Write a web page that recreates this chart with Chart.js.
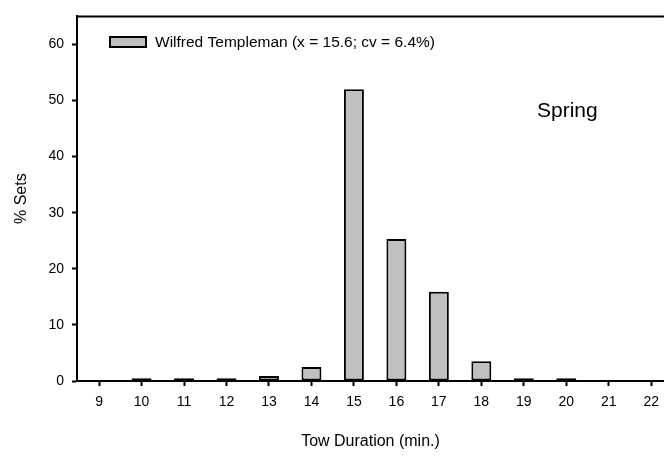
<!DOCTYPE html>
<html>
<head>
<meta charset="utf-8">
<script src="https://cdn.jsdelivr.net/npm/chart.js@4.4.0/dist/chart.umd.min.js"></script>
<style>
html,body{margin:0;padding:0;background:#fff;}
#wrap{width:667px;height:457px;position:relative;}
</style>
</head>
<body>
<div id="wrap"><canvas id="c" width="667" height="457"></canvas></div>
<script>
const categories = [9, 10, 11, 12, 13, 14, 15, 16, 17, 18, 19, 20, 21, 22];
const percentSets = [null, 0.5, 0.5, 0.5, 0.9, 2.5, 52.0, 25.3, 15.9, 3.5, 0.5, 0.5, null, null];
const yTicks = [0, 10, 20, 30, 40, 50, 60];
const seriesLabel = 'Wilfred Templeman (x = 15.6; cv = 6.4%)';
const panelLabel = 'Spring';

const FONT = "'Liberation Sans', Arial, sans-serif";

const overlay = {
  id: 'overlay',
  afterDraw(chart) {
    const ctx = chart.ctx;
    const a = chart.chartArea;
    ctx.save();
    // top frame line
    ctx.strokeStyle = '#000';
    ctx.lineWidth = 2;
    ctx.beginPath();
    ctx.moveTo(a.left - 1, a.top);
    ctx.lineTo(a.right, a.top);
    ctx.stroke();
    // legend
    ctx.fillStyle = '#c0c0c0';
    ctx.fillRect(110, 37, 36, 10);
    ctx.strokeRect(110, 37, 36, 10);
    ctx.fillStyle = '#000';
    ctx.font = '15.5px ' + FONT;
    ctx.textBaseline = 'middle';
    ctx.textAlign = 'left';
    ctx.fillText(seriesLabel, 155, 42.5);
    // panel label
    ctx.font = '21px ' + FONT;
    ctx.fillText(panelLabel, 537, 111);
    ctx.restore();
  }
};

new Chart(document.getElementById('c'), {
  type: 'bar',
  data: {
    datasets: [{
      label: seriesLabel,
      data: categories.map((c, i) => ({x: c, y: percentSets[i]})),
      backgroundColor: '#c0c0c0',
      borderColor: '#000',
      borderWidth: 2,
      borderSkipped: false,
      categoryPercentage: 1,
      barPercentage: 0.47
    }]
  },
  options: {
    responsive: false,
    animation: false,
    devicePixelRatio: 1,
    layout: {padding: {top: 6, right: 0, left: 0, bottom: 0}},
    plugins: {legend: {display: false}, tooltip: {enabled: false}},
    scales: {
      x: {
        type: 'linear',
        offset: false,
        min: 8.48,
        max: 22.3,
        afterBuildTicks: s => { s.ticks = categories.map(v => ({value: v})); },
        afterFit: s => { s.height = 76; },
        grid: {display: true, offset: false, drawOnChartArea: false, tickLength: 5, tickColor: '#000', tickWidth: 2},
        border: {display: true, color: '#000', width: 2},
        ticks: {color: '#000', font: {family: FONT, size: 14}, padding: 8, maxRotation: 0, autoSkip: false},
        title: {display: true, text: 'Tow Duration (min.)', color: '#000', font: {family: FONT, size: 16}, padding: {top: 12, bottom: 6}}
      },
      y: {
        min: 0,
        max: 65,
        afterBuildTicks: s => { s.ticks = yTicks.map(v => ({value: v})); },
        afterFit: s => { s.width = 77; },
        grid: {display: true, drawOnChartArea: false, tickLength: 5, tickColor: '#000', tickWidth: 2},
        border: {display: true, color: '#000', width: 2},
        ticks: {color: '#000', font: {family: FONT, size: 14}, padding: 8},
        title: {display: true, text: '% Sets', color: '#000', font: {family: FONT, size: 16}, padding: {top: 12, bottom: 0}}
      }
    }
  },
  plugins: [overlay]
});
</script>
</body>
</html>
